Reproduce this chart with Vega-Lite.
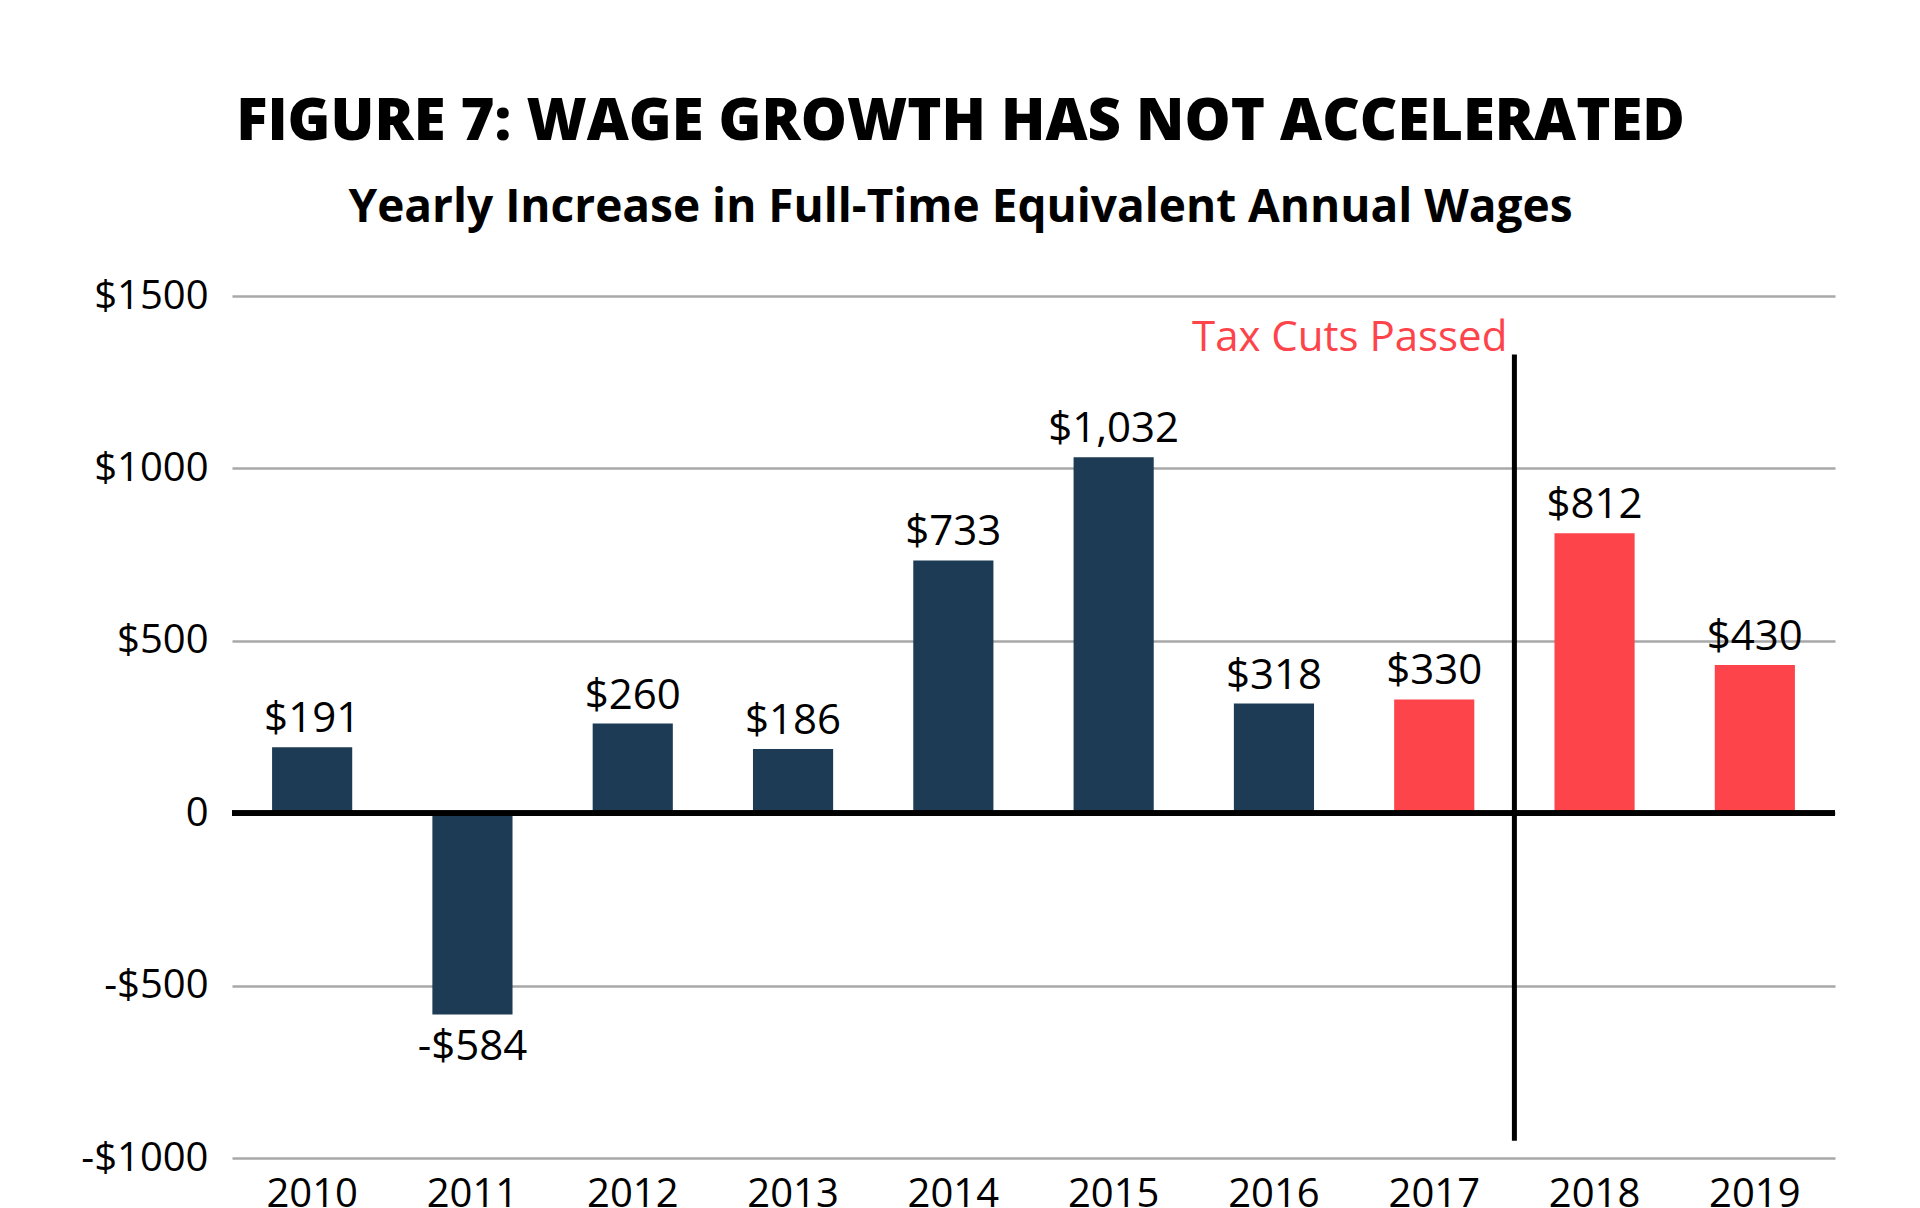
{
  "$schema": "https://vega.github.io/schema/vega-lite/v6.json",
  "width": 1603,
  "height": 862,
  "autosize": "none",
  "padding": {"left": 232, "top": 296, "right": 85, "bottom": 50},
  "background": "white",
  "title": {
    "text": "FIGURE 7: WAGE GROWTH HAS NOT ACCELERATED",
    "subtitle": "Yearly Increase in Full-Time Equivalent Annual Wages",
    "anchor": "middle",
    "frame": "group",
    "dx": -73,
    "offset": 45,
    "subtitlePadding": 34,
    "font": "Open Sans",
    "fontSize": 58,
    "fontWeight": 800,
    "color": "black",
    "subtitleFont": "Open Sans",
    "subtitleFontSize": 46,
    "subtitleFontWeight": 700,
    "subtitleColor": "black"
  },
  "data": {
    "values": [
      {"year": "2010", "value": 191, "label": "$191", "group": "before"},
      {"year": "2011", "value": -584, "label": "-$584", "group": "before"},
      {"year": "2012", "value": 260, "label": "$260", "group": "before"},
      {"year": "2013", "value": 186, "label": "$186", "group": "before"},
      {"year": "2014", "value": 733, "label": "$733", "group": "before"},
      {"year": "2015", "value": 1032, "label": "$1,032", "group": "before"},
      {"year": "2016", "value": 318, "label": "$318", "group": "before"},
      {"year": "2017", "value": 330, "label": "$330", "group": "after"},
      {"year": "2018", "value": 812, "label": "$812", "group": "after"},
      {"year": "2019", "value": 430, "label": "$430", "group": "after"}
    ]
  },
  "layer": [
    {
      "mark": {"type": "bar"},
      "encoding": {
        "x": {
          "field": "year",
          "type": "ordinal",
          "scale": {"paddingInner": 0.5, "paddingOuter": 0.25},
          "axis": {
            "title": null,
            "labelAngle": 0,
            "domain": false,
            "ticks": false,
            "tickSize": 0,
            "grid": false,
            "labelPadding": 16,
            "labelFont": "Open Sans",
            "labelFontSize": 40,
            "labelColor": "black"
          }
        },
        "y": {
          "field": "value",
          "type": "quantitative",
          "scale": {"domain": [-1000, 1500], "nice": false, "zero": false},
          "axis": {
            "title": null,
            "values": [-1000, -500, 0, 500, 1000, 1500],
            "labelExpr": "datum.value == 0 ? '0' : (datum.value < 0 ? '-$' + abs(datum.value) : '$' + datum.value)",
            "domain": false,
            "ticks": false,
            "tickSize": 0,
            "grid": true,
            "gridColor": "#a8a8a8",
            "gridWidth": 2.5,
            "zindex": 0,
            "labelPadding": 24,
            "labelFont": "Open Sans",
            "labelFontSize": 40,
            "labelColor": "black"
          }
        },
        "color": {
          "field": "group",
          "type": "nominal",
          "scale": {"domain": ["before", "after"], "range": ["#1d3b54", "#fd444a"]},
          "legend": null
        }
      }
    },
    {
      "mark": {"type": "rule", "color": "black", "strokeWidth": 5},
      "encoding": {"y": {"datum": 0}}
    },
    {
      "transform": [{"filter": "datum.value >= 0"}],
      "mark": {"type": "text", "baseline": "alphabetic", "dy": -15, "font": "Open Sans", "fontSize": 42, "color": "black"},
      "encoding": {
        "x": {"field": "year", "type": "ordinal"},
        "y": {"field": "value", "type": "quantitative"},
        "text": {"field": "label"}
      }
    },
    {
      "transform": [{"filter": "datum.value < 0"}],
      "mark": {"type": "text", "baseline": "alphabetic", "dy": 45, "font": "Open Sans", "fontSize": 42, "color": "black"},
      "encoding": {
        "x": {"field": "year", "type": "ordinal"},
        "y": {"field": "value", "type": "quantitative"},
        "text": {"field": "label"}
      }
    },
    {
      "transform": [{"filter": "datum.year == '2018'"}],
      "mark": {"type": "rule", "color": "black", "strokeWidth": 5},
      "encoding": {
        "x": {"field": "year", "type": "ordinal", "bandPosition": -0.5},
        "y": {"datum": 1330},
        "y2": {"datum": -950}
      }
    },
    {
      "transform": [{"filter": "datum.year == '2018'"}],
      "mark": {"type": "text", "text": "Tax Cuts Passed", "align": "right", "baseline": "alphabetic", "dx": -7, "font": "Open Sans", "fontSize": 42, "color": "#fd444a"},
      "encoding": {
        "x": {"field": "year", "type": "ordinal", "bandPosition": -0.5},
        "y": {"datum": 1340}
      }
    }
  ],
  "config": {"view": {"stroke": null}}
}
